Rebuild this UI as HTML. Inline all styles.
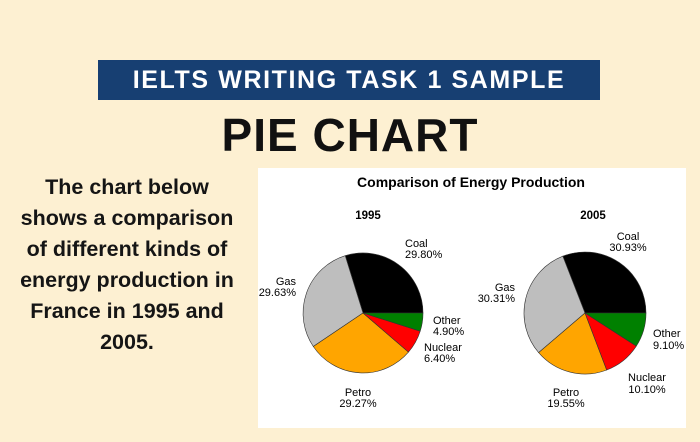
<!DOCTYPE html>
<html><head><meta charset="utf-8"><style>
html,body{margin:0;padding:0}
body{width:700px;height:442px;background:#fdf0d2;position:relative;overflow:hidden;font-family:"Liberation Sans",sans-serif}
.banner{position:absolute;left:98px;top:60px;width:502px;height:40px;background:#173f72;color:#fff;font-weight:bold;font-size:25px;text-align:center;line-height:40px;letter-spacing:1.6px}
.title{position:absolute;left:0;width:700px;top:108px;text-align:center;font-weight:bold;font-size:46px;line-height:54px;color:#111;letter-spacing:1px}
.desc{position:absolute;left:0;width:254px;top:172px;text-align:center;font-weight:bold;font-size:21.5px;line-height:31px;color:#151515}
svg{position:absolute;left:0;top:0}
</style></head><body>
<div class="banner">IELTS WRITING TASK 1 SAMPLE</div>
<div class="title">PIE CHART</div>
<div class="desc">The chart below<br>shows a comparison<br>of different kinds of<br>energy production in<br>France in 1995 and<br>2005.</div>
<svg width="700" height="442" font-family="Liberation Sans, Arial, sans-serif">
<rect x="258" y="168" width="428" height="260" fill="#fff"/>
<text x="471" y="187" text-anchor="middle" font-weight="bold" font-size="14">Comparison of Energy Production</text>
<text x="368" y="219" text-anchor="middle" font-weight="bold" font-size="11.5">1995</text>
<text x="593" y="219" text-anchor="middle" font-weight="bold" font-size="11.5">2005</text>
<g stroke="#333" stroke-width="0.6">
<path d="M363,313 L423,313 A60,60 0 0 0 345.2,255.7 Z" fill="#000"/>
<path d="M363,313 L345.2,255.7 A60,60 0 0 0 313.3,346.5 Z" fill="#bebebe"/>
<path d="M363,313 L313.3,346.5 A60,60 0 0 0 408.5,352.1 Z" fill="#ffa500"/>
<path d="M363,313 L408.5,352.1 A60,60 0 0 0 420.2,331.2 Z" fill="#ff0000"/>
<path d="M363,313 L420.2,331.2 A60,60 0 0 0 423,313 Z" fill="#008000"/>
<path d="M585,313 L646,313 A61,61 0 0 0 562.8,256.2 Z" fill="#000"/>
<path d="M585,313 L562.8,256.2 A61,61 0 0 0 538.6,352.6 Z" fill="#bebebe"/>
<path d="M585,313 L538.6,352.6 A61,61 0 0 0 606.7,370 Z" fill="#ffa500"/>
<path d="M585,313 L606.7,370 A61,61 0 0 0 636.3,346.1 Z" fill="#ff0000"/>
<path d="M585,313 L636.3,346.1 A61,61 0 0 0 646,313 Z" fill="#008000"/>
</g>
<g font-size="11">
<text x="405" y="247">Coal</text><text x="405" y="258">29.80%</text>
<text x="296" y="285" text-anchor="end">Gas</text><text x="296" y="296" text-anchor="end">29.63%</text>
<text x="433" y="324">Other</text><text x="433" y="335">4.90%</text>
<text x="424" y="351">Nuclear</text><text x="424" y="362">6.40%</text>
<text x="358" y="396" text-anchor="middle">Petro</text><text x="358" y="407" text-anchor="middle">29.27%</text>
<text x="628" y="240" text-anchor="middle">Coal</text><text x="628" y="251" text-anchor="middle">30.93%</text>
<text x="515" y="291" text-anchor="end">Gas</text><text x="515" y="302" text-anchor="end">30.31%</text>
<text x="653" y="337">Other</text><text x="653" y="349">9.10%</text>
<text x="647" y="381" text-anchor="middle">Nuclear</text><text x="647" y="393" text-anchor="middle">10.10%</text>
<text x="566" y="396" text-anchor="middle">Petro</text><text x="566" y="407" text-anchor="middle">19.55%</text>
</g>
</svg>
</body></html>
